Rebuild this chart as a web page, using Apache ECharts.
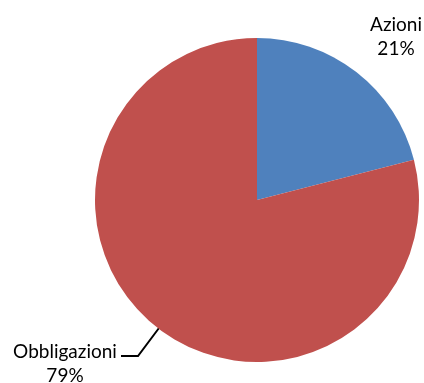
<!DOCTYPE html>
<html>
<head>
<meta charset="utf-8">
<script src="https://cdn.jsdelivr.net/npm/echarts@6/dist/echarts.min.js"></script>
<style>
  html, body { margin: 0; padding: 0; background: #fff; }
  #chart { width: 424px; height: 383px; }
</style>
</head>
<body>
<div id="chart"></div>
<script>
// Asset allocation split
const categories = ['Azioni', 'Obbligazioni'];
const values = [21, 79];
const colors = ['#4F81BD', '#C0504D'];

const chart = echarts.init(document.getElementById('chart'), null, { renderer: 'canvas' });

const labelSpots = {
  'Azioni': { x: 396, y: 37, line: null },
  'Obbligazioni': { x: 65, y: 364, line: [[159, 328], [138, 356], [121, 356]] }
};

chart.setOption({
  animation: false,
  series: [{
    type: 'pie',
    center: [257, 200],
    radius: [0, 162],
    startAngle: 90,
    clockwise: true,
    data: categories.map((c, i) => ({
      name: c,
      value: values[i],
      itemStyle: { color: colors[i] },
      labelLine: { show: c === 'Obbligazioni' }
    })),
    label: {
      show: true,
      position: 'outside',
      formatter: '{b}\n{d}%',
      color: '#000',
      fontFamily: 'Lato',
      fontSize: 19,
      lineHeight: 24,
      align: 'center',
      overflow: 'none',
      width: 200
    },
    labelLine: {
      lineStyle: { color: '#000', width: 2 }
    },
    labelLayout: function (p) {
      const s = labelSpots[p.text.split('\n')[0]];
      const out = { x: s.x, y: s.y, align: 'center', verticalAlign: 'middle' };
      if (s.line) out.labelLinePoints = s.line;
      return out;
    }
  }]
});
</script>
</body>
</html>
